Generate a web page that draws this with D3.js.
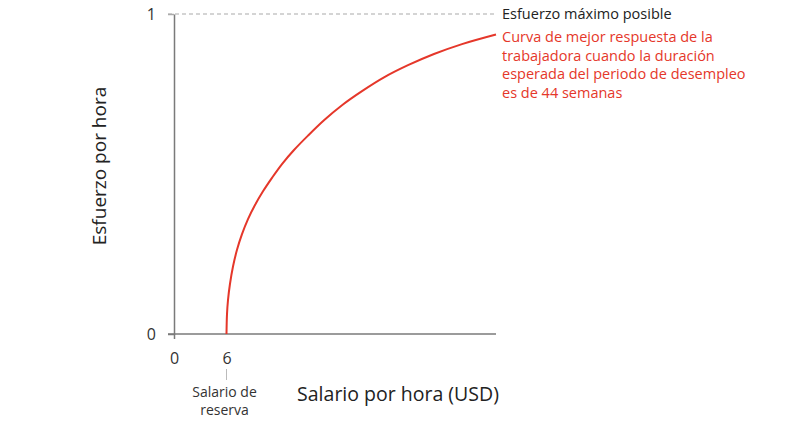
<!DOCTYPE html>
<html><head><meta charset="utf-8">
<script src="https://cdn.jsdelivr.net/npm/d3@7"></script>
<style>body{margin:0;background:#fff;} svg{display:block;} text{font-family:"Open Sans","Noto Sans",sans-serif;}</style>
</head><body>
<svg id="c" width="809" height="428"></svg>
<script>
const wage   = [6, 6.057, 6.171, 6.4, 6.743, 7.2, 7.771, 8.457, 9.257, 10.171, 11.2, 12.343, 13.714, 15.314, 17.143, 19.2, 21.486, 24.0, 26.743, 29.714, 32.914, 36.8];
const effort = [0, 0.062, 0.106, 0.157, 0.211, 0.263, 0.312, 0.359, 0.403, 0.446, 0.488, 0.531, 0.575, 0.620, 0.668, 0.715, 0.759, 0.802, 0.840, 0.875, 0.906, 0.936];
const xTicks = [0, 6];
const yTicks = [0, 1];
const xDomain = [0, 36.8];
const yDomain = [0, 1];
const maxLabel = "Esfuerzo máximo posible";
const curveLabel = ["Curva de mejor respuesta de la", "trabajadora cuando la duración", "esperada del periodo de desempleo", "es de 44 semanas"];
const reserveLabel = ["Salario de", "reserva"];
const xTitle = "Salario por hora (USD)";
const yTitle = "Esfuerzo por hora";

const svg = d3.select("#c");
const x = d3.scaleLinear().domain(xDomain).range([174, 496]);
const y = d3.scaleLinear().domain(yDomain).range([334, 14]);
const red = "#e5372a", axisCol = "#7a7a7a";

// dashed max effort line
svg.append("line").attr("x1", x(0) - 6).attr("x2", x(xDomain[1]) - 2).attr("y1", y(1)).attr("y2", y(1))
  .attr("stroke", "#aaa").attr("stroke-width", 1.2).attr("stroke-dasharray", "4,3");

// axes
const xAxis = svg.append("g").attr("transform", `translate(0,${y(0)})`)
  .call(d3.axisBottom(x).tickValues(xTicks).tickFormat(d3.format("d")).tickSize(5).tickSizeOuter(0).tickPadding(14));
const yAxis = svg.append("g").attr("transform", `translate(${x(0)},0)`)
  .call(d3.axisLeft(y).tickValues(yTicks).tickFormat(d3.format("d")).tickSize(6).tickSizeOuter(0).tickPadding(12));
[xAxis, yAxis].forEach(g => {
  g.select(".domain").attr("stroke", axisCol).attr("stroke-width", 1.5);
  g.selectAll(".tick line").attr("stroke", axisCol).attr("stroke-width", 1.5);
  g.selectAll(".tick text").attr("fill", "#333").attr("font-size", 16).style("font-family", '"Open Sans","Noto Sans",sans-serif');
});
xAxis.select(".domain").attr("d", `M${x(0)-6},0H${x(xDomain[1])}`);
yAxis.selectAll(".tick").filter(d => d === 1).select("line").attr("stroke", "#aaa");
xAxis.selectAll(".tick").filter(d => d === 6).select("line").remove();

// reservation wage marker
svg.append("line").attr("x1", x(6)).attr("x2", x(6)).attr("y1", 369).attr("y2", 380)
  .attr("stroke", "#bbb").attr("stroke-width", 1);
reserveLabel.forEach((t, i) => {
  svg.append("text").attr("x", x(6) - 2).attr("y", 397 + i * 18).attr("text-anchor", "middle")
    .attr("font-size", 14).attr("fill", "#333").text(t);
});

// curve
const pts = wage.map((w, i) => [w, effort[i]]);
svg.append("path").datum(pts)
  .attr("d", d3.line().x(d => x(d[0])).y(d => y(d[1])).curve(d3.curveCatmullRom.alpha(0.5)))
  .attr("fill", "none").attr("stroke", red).attr("stroke-width", 2);

// axis titles
svg.append("text").attr("x", 398).attr("y", 401).attr("text-anchor", "middle")
  .attr("font-size", 19.5).attr("fill", "#222").text(xTitle);
svg.append("text").attr("transform", "translate(106,166) rotate(-90)").attr("text-anchor", "middle")
  .attr("font-size", 19).attr("fill", "#222").text(yTitle);

// annotations
svg.append("text").attr("x", 502).attr("y", y(1)).attr("dy", "0.35em")
  .attr("font-size", 14.5).attr("fill", "#222").text(maxLabel);
curveLabel.forEach((t, i) => {
  svg.append("text").attr("x", 502).attr("y", 37 + i * 18.5).attr("dy", "0.35em")
    .attr("font-size", 14.5).attr("fill", red).text(t);
});
</script>
</body></html>
